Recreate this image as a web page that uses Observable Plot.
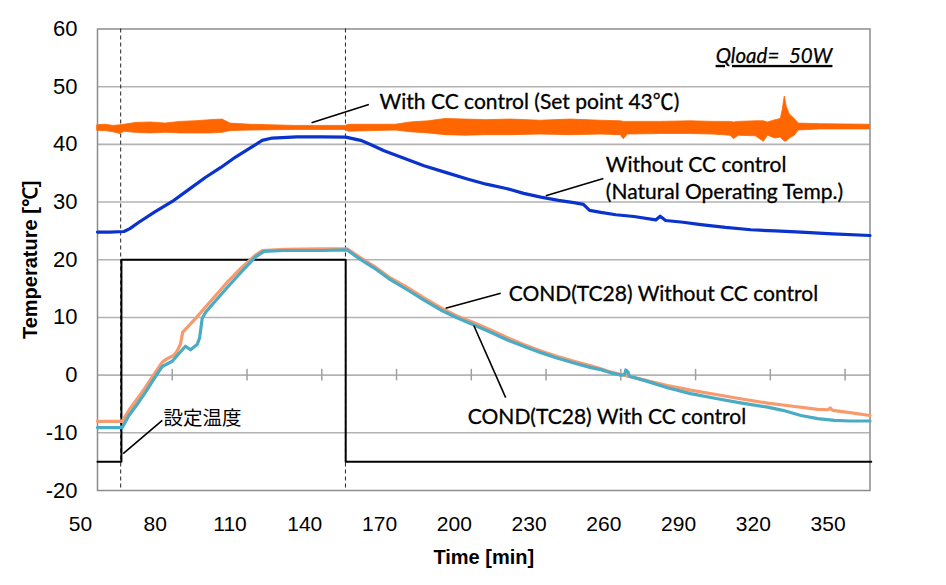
<!DOCTYPE html>
<html>
<head>
<meta charset="utf-8">
<script src="https://cdn.jsdelivr.net/npm/d3@7"></script>
<script src="https://cdn.jsdelivr.net/npm/@observablehq/plot@0.6"></script>
<style>
  body { margin: 0; background: #fff; }
  #chart svg { display: block; }
</style>
</head>
<body>
<div id="chart"></div>
<script>
// ---- tick labels ----
const xTickLabels = [50, 80, 110, 140, 170, 200, 230, 260, 290, 320, 350];
const xTickMarks = [80, 110, 140, 170, 200, 230, 260, 290, 320, 350];
const yTickLabels = [60, 50, 40, 30, 20, 10, 0, -10, -20];

// ---- Set temperature (設定温度) step ----
const setT = [50, 59.6, 59.6, 149.6, 149.6, 360.5];
const setV = [-15, -15, 20, 20, -15, -15];

// ---- heater on/off markers (dashed verticals) ----
const markerT = [59.3, 149.5];

// ---- With CC control (set point 43℃): envelope (min / max) of the oscillating trace ----
const ccT  = [50, 53.2, 56.4, 59.2, 60.8, 65.3, 71.3, 77.3, 83.3, 89.3, 95.4, 100.2, 103.4, 111.4, 129.5, 149.6, 150.8, 169.6, 175.7, 182.9, 189.7, 197.7, 205.8, 215.8, 227.9, 239.9, 252.0, 260.0, 261.2, 262.8, 276.0, 288.1, 297.3, 304.1, 305.4, 307.4, 314.2, 317.4, 319.0, 322.2, 324.2, 325.0, 325.8, 326.6, 327.8, 329.8, 331.4, 340.3, 360];
const ccHi = [43.3, 43.4, 43.2, 43.3, 43.4, 43.7, 43.8, 43.6, 43.9, 44.0, 44.2, 44.3, 43.6, 43.4, 43.2, 43.2, 43.4, 43.4, 43.8, 44.0, 44.4, 44.3, 44.2, 44.3, 44.1, 44.3, 44.1, 44.0, 43.9, 43.9, 43.9, 44.0, 43.9, 43.9, 43.8, 43.9, 44.0, 44.0, 43.8, 44.2, 44.4, 46.0, 48.3, 46.5, 45.2, 44.4, 43.6, 43.5, 43.4];
const ccLo = [42.35, 42.3, 42.1, 41.8, 42.2, 42.0, 41.9, 42.0, 41.9, 41.9, 41.9, 42.0, 42.3, 42.4, 42.5, 42.5, 42.2, 42.4, 42.1, 41.9, 41.6, 41.5, 41.6, 41.6, 41.7, 41.6, 41.7, 41.6, 40.9, 41.7, 41.8, 41.8, 41.7, 41.5, 40.9, 41.5, 41.4, 40.45, 41.5, 41.0, 41.2, 40.8, 40.5, 40.5, 41.0, 41.5, 42.4, 42.6, 42.6];

// ---- Without CC control (natural operating temp.) ----
const natT = [50, 55, 60.6, 63, 66.6, 73, 80, 86.7, 93.4, 99.5, 105.4, 111, 116.1, 120.1, 130, 140, 149.6, 155.6, 160, 165, 173, 181, 190, 198.4, 206, 214.5, 221, 227.9, 235, 241.2, 245, 247.5, 252, 258, 265.3, 274, 275.8, 278, 285, 292.1, 302, 312.2, 322, 332.3, 345, 360];
const natV = [24.8, 24.8, 24.9, 25.4, 26.5, 28.3, 30.1, 32.2, 34.3, 36.0, 37.8, 39.3, 40.7, 41.1, 41.3, 41.3, 41.25, 40.7, 39.9, 38.9, 37.6, 36.3, 35.1, 34.0, 33.1, 32.3, 31.5, 30.85, 30.3, 29.9, 29.6, 28.55, 28.2, 27.8, 27.5, 26.9, 27.55, 26.8, 26.5, 26.1, 25.6, 25.2, 25.0, 24.8, 24.5, 24.2];

// ---- COND(TC28) Without CC control ----
const condOffT = [50, 59.9, 62.6, 66, 69.3, 72.6, 76.0, 78.0, 80.6, 82, 83.3, 84.2, 86.5, 89.3, 96, 102.7, 108, 113.3, 116.1, 125, 140, 150.2, 155, 160.9, 167, 174.3, 181, 187.7, 194, 201.1, 208, 214.5, 221, 227.9, 234, 241.2, 248, 252, 254.6, 260, 265, 270, 278.7, 288, 298.8, 308, 318.9, 329, 339, 343, 344, 345, 352, 360];
const condOffV = [-8.0, -8.0, -6.1, -4.1, -2.1, 0.1, 2.25, 2.85, 3.4, 4.2, 5.4, 7.45, 8.5, 9.8, 13.1, 16.4, 18.7, 20.75, 21.6, 21.8, 21.9, 21.9, 20.5, 18.9, 17.0, 15.2, 13.4, 11.7, 10.3, 9.1, 7.8, 6.5, 5.3, 4.2, 3.3, 2.4, 1.6, 1.1, 0.7, 0.1, -0.4, -0.9, -1.8, -2.6, -3.4, -4.1, -4.85, -5.4, -5.95, -6.0, -5.7, -6.1, -6.5, -7.0];

// ---- COND(TC28) With CC control ----
const condOnT = [50, 59.9, 62.6, 66, 69.3, 72.6, 76, 80, 82.6, 85.3, 87.3, 90, 91, 92, 93.4, 98, 102.7, 108, 113.3, 116.8, 125, 140, 150.2, 155, 160.9, 167, 174.3, 181, 187.7, 194, 201.1, 208, 214.5, 221, 227.9, 234, 241.2, 248, 252, 256, 260, 261.5, 262, 262.8, 263.5, 270, 278.7, 288, 298.8, 308, 318.9, 325, 332.3, 339, 345.7, 352, 360];
const condOnV = [-9.1, -9.1, -7.0, -5.0, -2.95, -0.7, 1.5, 2.4, 3.7, 5.0, 4.4, 5.3, 6.5, 9.8, 10.9, 13.2, 15.5, 18.0, 20.45, 21.45, 21.6, 21.6, 21.7, 20.2, 18.6, 16.7, 14.8, 13.0, 11.3, 10.0, 8.7, 7.4, 6.1, 5.0, 3.9, 3.0, 2.1, 1.3, 0.95, 0.4, 0.0, 0.1, 0.9, 0.6, -0.2, -1.0, -2.2, -3.2, -4.1, -4.8, -5.55, -6.1, -7.0, -7.55, -7.85, -7.95, -7.95];

// ---- annotations ----
const labels = [
  {t: 163.2, v: 46.2, text: "With CC control (Set point 43℃)"},
  {t: 254.0, v: 35.2, text: "Without CC control"},
  {t: 254.0, v: 30.45, text: "(Natural Operating Temp.)"},
  {t: 215.0, v: 12.9, text: "COND(TC28) Without CC control"},
  {t: 198.6, v: -8.4, text: "COND(TC28) With CC control"}
];
const cjkLabel = [{t: 76.5, v: -8.7, text: "設定温度"}];
const leaders = [
  {t1: 135.9, v1: 43.75, t2: 158.9, v2: 46.9},
  {t1: 229.9, v1: 31.1, t2: 253.0, v2: 34.1},
  {t1: 189.7, v1: 11.6, t2: 211.8, v2: 14.2},
  {t1: 201.0, v1: 8.6, t2: 213.8, v2: -3.9},
  {t1: 60.3, v1: -13.6, t2: 76.0, v2: -7.85}
];

const zip = (ts, vs) => ts.map((t, i) => ({t, v: vs[i]}));
const ccData = ccT.map((t, i) => ({t, lo: ccLo[i], hi: ccHi[i]}));

const annoFont = "Lato, 'Noto Sans CJK JP', sans-serif";
const cjkFont = "'Noto Sans CJK JP', sans-serif";
const axisFont = "'Liberation Sans', Arial, sans-serif";

const chart = Plot.plot({
  width: 946,
  height: 585,
  marginLeft: 97,
  marginRight: 76.5,
  marginTop: 28.5,
  marginBottom: 95,
  x: {domain: [50, 360], axis: null},
  y: {domain: [-20, 60], axis: null},
  style: {fontFamily: axisFont, background: "#fff", overflow: "visible"},
  marks: [
    Plot.ruleY(yTickLabels.filter(d => d > -20 && d < 60), {y: d => d, stroke: "#b3b3b3", strokeWidth: 1.6}),
    Plot.ruleX(xTickMarks, {x: d => d, y1: -1, y2: 1, stroke: "#a0a0a0", strokeWidth: 1.5}),
    Plot.frame({stroke: "#8c8c8c", strokeWidth: 1.5}),
    Plot.ruleX(markerT, {x: d => d, stroke: "#222", strokeWidth: 1, strokeDasharray: "4,3"}),
    Plot.line(zip(setT, setV), {x: "t", y: "v", stroke: "#000", strokeWidth: 2}),
    Plot.areaY(ccData, {x: "t", y1: "lo", y2: "hi", fill: "#ff6600", stroke: "#ff6600", strokeWidth: 0.8}),
    Plot.line(zip(natT, natV), {x: "t", y: "v", stroke: "#0a32cc", strokeWidth: 3.2}),
    Plot.line(zip(condOffT, condOffV), {x: "t", y: "v", stroke: "#f99a6e", strokeWidth: 3.2}),
    Plot.line(zip(condOnT, condOnV), {x: "t", y: "v", stroke: "#4aabc5", strokeWidth: 3.2}),
    Plot.link(leaders, {x1: "t1", y1: "v1", x2: "t2", y2: "v2", stroke: "#000", strokeWidth: 1.6}),
    Plot.text(labels, {x: "t", y: "v", text: "text", textAnchor: "start", lineAnchor: "bottom", fontSize: 21, fontFamily: annoFont, fill: "#000", stroke: "#000", strokeWidth: 0.3}),
    Plot.text(cjkLabel, {x: "t", y: "v", text: "text", textAnchor: "start", lineAnchor: "bottom", fontSize: 19.5, fontFamily: cjkFont, fill: "#000"}),
    Plot.text(["Qload=\u00a0\u00a050W"], {x: 298.1, y: 54.1, text: d => d, textAnchor: "start", lineAnchor: "bottom", fontSize: 20.5, fontStyle: "italic", fontFamily: annoFont, fill: "#000", stroke: "#000", strokeWidth: 0.25}),
    // tick labels
    Plot.text(yTickLabels, {x: 50, y: d => d, text: d => String(d), textAnchor: "end", dx: -20, fontSize: 22, fill: "#000"}),
    Plot.text(xTickLabels, {x: d => d, y: -20, text: d => String(d), dx: -17, dy: 34, fontSize: 21, fill: "#000"}),
    // axis titles
    Plot.text(["Temperature [℃]"], {frameAnchor: "left", textAnchor: "middle", text: d => d, rotate: -90, dx: -67, fontSize: 20, fontWeight: "bold", fill: "#000"}),
    Plot.text(["Time [min]"], {frameAnchor: "bottom", text: d => d, dy: 73, fontSize: 20, fontWeight: "bold", fill: "#000"})
  ]
});

d3.select(chart).selectAll("text").filter(function() { return this.textContent.startsWith("Qload"); })
  .style("text-decoration", "underline");

document.getElementById("chart").appendChild(chart);
</script>
</body>
</html>
